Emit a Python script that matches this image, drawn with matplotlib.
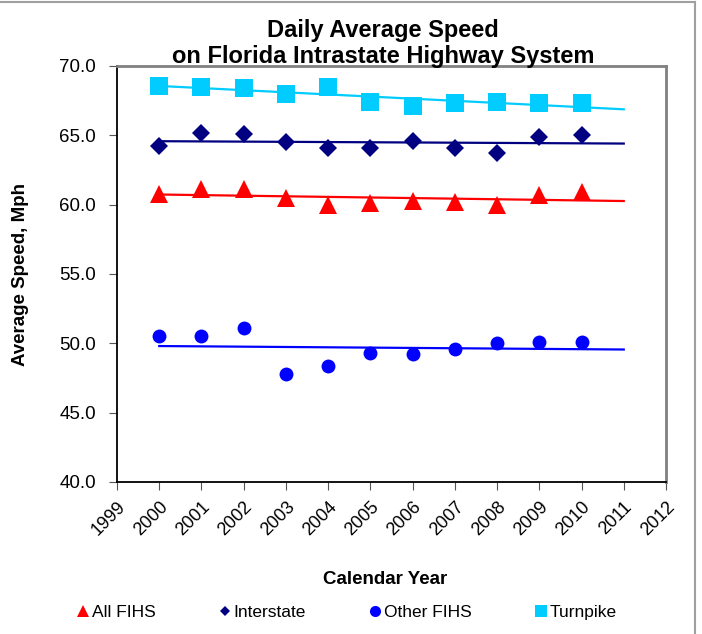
import matplotlib
matplotlib.use("Agg")
import matplotlib.pyplot as plt
import numpy as np
from matplotlib.lines import Line2D

plt.rcParams['font.family'] = ['Liberation Sans', 'DejaVu Sans']

years = [2000, 2001, 2002, 2003, 2004, 2005, 2006, 2007, 2008, 2009, 2010]
all_fihs = [60.8, 61.1, 61.1, 60.5, 60.0, 60.1, 60.3, 60.2, 60.0, 60.7, 60.9]
interstate = [64.2, 65.2, 65.1, 64.5, 64.1, 64.1, 64.6, 64.1, 63.7, 64.9, 65.0]
other_fihs = [50.5, 50.5, 51.1, 47.8, 48.4, 49.3, 49.2, 49.6, 50.0, 50.1, 50.1]
turnpike = [68.55, 68.5, 68.4, 68.0, 68.5, 67.4, 67.1, 67.3, 67.4, 67.3, 67.3]
tick_years = list(range(1999, 2013))
yticks = [40.0, 45.0, 50.0, 55.0, 60.0, 65.0, 70.0]

fig = plt.figure(figsize=(7.02, 6.34), dpi=100)
ax = fig.add_axes([117/702, 1-482/634, (666-117)/702, (482-66)/634])

series = [
    ("All FIHS", all_fihs, '#FF0000', '^', 13),
    ("Interstate", interstate, '#000080', 'D', 9),
    ("Other FIHS", other_fihs, '#0000FF', 'o', 10),
    ("Turnpike", turnpike, '#00CCFF', 's', 13),
]

x = np.array(years, dtype=float)
for name, vals, col, mk, ms in series:
    v = np.array(vals)
    p = np.polyfit(x, v, 1)
    xt = np.array([years[0], 2011])
    ax.plot(xt, np.polyval(p, xt), color=col, lw=1.6, zorder=2)
    ax.plot(x, v, linestyle='none', marker=mk, markersize=ms, color=col,
            markeredgewidth=0, zorder=3)

ax.set_xlim(1999, 2012)
ax.set_ylim(40, 70)
ax.set_xticks(tick_years)
ax.set_xticklabels([str(y) for y in tick_years], rotation=45, ha='right',
                   va='top', rotation_mode='anchor', fontsize=13)
ax.set_yticks(yticks)
ax.set_yticklabels([f"{t:.1f}" for t in yticks], fontsize=13.5)
ax.tick_params(axis='both', direction='out', length=6, width=0.8, color='#555555')
ax.tick_params(axis='y', pad=9)
ax.tick_params(axis='x', pad=6)

for s in ['left', 'bottom']:
    ax.spines[s].set_color('black')
    ax.spines[s].set_linewidth(1.3)
for s in ['top', 'right']:
    ax.spines[s].set_color('#808080')
    ax.spines[s].set_linewidth(2)

fig.text(383/702, 1-30/634, "Daily Average Speed", ha='center', va='center',
         fontsize=17, fontweight='bold')
fig.text(383/702, 1-57/634, "on Florida Intrastate Highway System", ha='center',
         va='center', fontsize=17, fontweight='bold')
fig.text(21/702, 1-275/634, "Average Speed, Mph", rotation=90, ha='center',
         va='center', fontsize=13.5, fontweight='bold')
fig.text(385/702, 1-580/634, "Calendar Year", ha='center', va='center',
         fontsize=13.5, fontweight='bold')

handles = [Line2D([], [], linestyle='none', marker=mk, color=col,
                  markersize=(8 if mk != 'D' else 5.5), markeredgewidth=0)
           for name, vals, col, mk, ms in series]
leg = fig.legend(handles, [s[0] for s in series], loc='center',
                 bbox_to_anchor=(347/702, 1-612/634), ncol=4, frameon=False,
                 fontsize=12.5, handlelength=0.7, handletextpad=0.15,
                 columnspacing=3.65, borderpad=0)

# outer chart border
fig.add_artist(Line2D([0, 695/702], [1-2/634, 1-2/634], color='#A0A0A0', lw=1.5,
                      transform=fig.transFigure))
fig.add_artist(Line2D([695/702, 695/702], [1-2/634, 0], color='#A0A0A0', lw=1.5,
                      transform=fig.transFigure))

fig.savefig("out.png", dpi=100)
